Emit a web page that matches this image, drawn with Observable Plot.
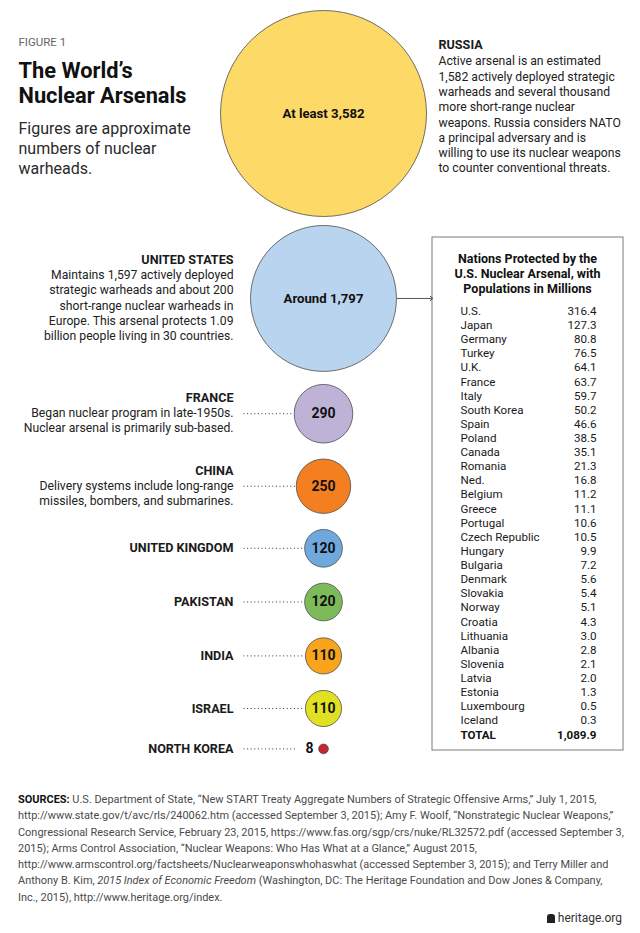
<!DOCTYPE html>
<html>
<head>
<meta charset="utf-8">
<script src="https://cdn.jsdelivr.net/npm/d3@7"></script>
<script src="https://cdn.jsdelivr.net/npm/@observablehq/plot@0.6"></script>
<style>
  body { margin: 0; background: #fff; }
  #wrap { position: relative; width: 640px; height: 933px; overflow: hidden; background:#fff; }
  #chart { position: absolute; left: 0; top: 0; }
  #sources { position: absolute; left: 18px; top: 792px; font-family: Roboto, sans-serif; font-size: 10.95px; line-height: 16.3px; color: #4a4a4a; }
  #sources div { white-space: nowrap; }
  #sources b { color: #111; font-weight: 700; }
  #brand { position: absolute; right: 18px; top: 911px; font-family: Roboto, sans-serif; font-size: 12px; color: #333; }
  #brand span { display: inline-block; width: 8px; height: 9px; background: #222; margin-right: 3px; vertical-align: -1px; border-radius: 3px 3px 0 0; }
</style>
</head>
<body>
<div id="wrap">
  <div id="chart"></div>
  <div id="sources"></div>
  <div id="brand"><span></span>heritage.org</div>
</div>
<script>
// ---------- DATA ----------
const countries = ["Russia", "United States", "France", "China", "United Kingdom", "Pakistan", "India", "Israel", "North Korea"];
const warheads = [3582, 1797, 290, 250, 120, 120, 110, 110, 8];
const circleLabels = ["At least 3,582", "Around 1,797", "290", "250", "120", "120", "110", "110", "8"];
const nameLabels = ["RUSSIA", "UNITED STATES", "FRANCE", "CHINA", "UNITED KINGDOM", "PAKISTAN", "INDIA", "ISRAEL", "NORTH KOREA"];
const notes = [
  ["Active arsenal is an estimated", "1,582 actively deployed strategic", "warheads and several thousand", "more short-range nuclear", "weapons. Russia considers NATO", "a principal adversary and is", "willing to use its nuclear weapons", "to counter conventional threats."],
  ["Maintains 1,597 actively deployed", "strategic warheads and about 200", "short-range nuclear warheads in", "Europe. This arsenal protects 1.09", "billion people living in 30 countries."],
  ["Began nuclear program in late-1950s.", "Nuclear arsenal is primarily sub-based."],
  ["Delivery systems include long-range", "missiles, bombers, and submarines."],
  [], [], [], [], []
];
const fills = ["#fdd967", "#b9d4ee", "#beb3d6", "#f47f20", "#6fa8dd", "#7dbb5a", "#f9a51b", "#e2e023", "#c8262f"];

const protectedNations = ["U.S.", "Japan", "Germany", "Turkey", "U.K.", "France", "Italy", "South Korea", "Spain", "Poland", "Canada", "Romania", "Ned.", "Belgium", "Greece", "Portugal", "Czech Republic", "Hungary", "Bulgaria", "Denmark", "Slovakia", "Norway", "Croatia", "Lithuania", "Albania", "Slovenia", "Latvia", "Estonia", "Luxembourg", "Iceland"];
const populations = [316.4, 127.3, 80.8, 76.5, 64.1, 63.7, 59.7, 50.2, 46.6, 38.5, 35.1, 21.3, 16.8, 11.2, 11.1, 10.6, 10.5, 9.9, 7.2, 5.6, 5.4, 5.1, 4.3, 3.0, 2.8, 2.1, 2.0, 1.3, 0.5, 0.3];
const totalLabel = "TOTAL";
const totalValue = "1,089.9";
const tableTitle = ["Nations Protected by the", "U.S. Nuclear Arsenal, with", "Populations in Millions"];

const titleText = { figure: "FIGURE 1", title: ["The World’s", "Nuclear Arsenals"], subtitle: ["Figures are approximate", "numbers of nuclear", "warheads."] };

const sourcesLines = [
  "<b>SOURCES:</b> U.S. Department of State, “New START Treaty Aggregate Numbers of Strategic Offensive Arms,” July 1, 2015,",
  "http://www.state.gov/t/avc/rls/240062.htm (accessed September 3, 2015); Amy F. Woolf, “Nonstrategic Nuclear Weapons,”",
  "Congressional Research Service, February 23, 2015, https://www.fas.org/sgp/crs/nuke/RL32572.pdf (accessed September 3,",
  "2015); Arms Control Association, “Nuclear Weapons: Who Has What at a Glance,” August 2015,",
  "http://www.armscontrol.org/factsheets/Nuclearweaponswhohaswhat (accessed September 3, 2015); and Terry Miller and",
  "Anthony B. Kim, <i>2015 Index of Economic Freedom</i> (Washington, DC: The Heritage Foundation and Dow Jones &amp; Company,",
  "Inc., 2015), http://www.heritage.org/index."
];

// ---------- LAYOUT (not data) ----------
const W = 640, H = 780;
const FONT = "Roboto, sans-serif";
const cx = 323, topY = 10, maxR = 103;
const gaps = [9, 13, 16, 16, 16, 17, 16.5, 17.5];
const lh = 15.3;
const noteSize = 12.2, nameSize = 12.6, tableSize = 11.6;
const leftTextX = 233, leaderStart = 243, rightTextX = 438;
const box = { x1: 432, x2: 623, y1: 237, y2: 750 };
const tableNameX = 460, tableValX = 596, tableTitleX = 527, rowY0 = 310.7, rowStep = 14.12;

const rScale = Plot.scale({ r: { domain: [0, warheads[0]], range: [0, maxR] } });
const rows = [];
let prevBottom = topY;
countries.forEach((c, i) => {
  const r = rScale.apply(warheads[i]);
  const cy = prevBottom + (i ? gaps[i - 1] : 0) + r;
  prevBottom = cy + r;
  rows.push({ country: c, warheads: warheads[i], label: circleLabels[i], name: nameLabels[i], notes: notes[i], r, cy, i });
});
const russia = rows[0], us = rows[1];
const leftRows = rows.slice(1);
const leaderRows = rows.slice(2);

const tableRows = protectedNations.map((n, i) => ({ name: n, value: populations[i].toFixed(1), i }));
const totalRow = [{ name: totalLabel, value: totalValue, i: protectedNations.length }];

const txt = "#1a1a1a";

const plot = Plot.plot({
  width: W, height: H,
  margin: 0,
  x: { domain: [0, W], range: [0, W], axis: null },
  y: { domain: [0, H], range: [0, H], axis: null },
  r: { domain: [0, warheads[0]], range: [0, maxR] },
  color: { domain: countries, range: fills },
  style: { fontFamily: FONT, background: "white" },
  marks: [
    // table box
    Plot.rect([box], { x1: "x1", x2: "x2", y1: "y1", y2: "y2", fill: "white", stroke: "#7a7a7a", strokeWidth: 1 }),
    // connector from US circle to the table
    Plot.link([us], { x1: d => cx + d.r, x2: box.x1 - 1, y1: "cy", y2: "cy", stroke: "#555", strokeWidth: 1, markerEnd: "arrow" }),
    // dotted leaders
    Plot.link(leaderRows, {
      x1: leaderStart,
      x2: d => d.warheads < 20 ? cx - d.r - 23 : cx - d.r - 1,
      y1: "cy", y2: "cy", stroke: "#333", strokeWidth: 1, strokeDasharray: "1,2.6"
    }),
    // circles
    Plot.dot(rows, { x: () => cx, y: "cy", r: "warheads", fill: "country", stroke: "#4d4d4d", strokeWidth: 0.8 }),
    // labels inside circles
    Plot.text(rows.filter(d => d.warheads >= 20 && d.i < 2), { x: () => cx, y: "cy", text: "label", fontWeight: "bold", fontSize: 13.2, fill: "#111" }),
    Plot.text(rows.filter(d => d.warheads >= 20 && d.i >= 2), { x: () => cx, y: "cy", text: "label", fontWeight: "bold", fontSize: 14, fill: "#111" }),
    // small value label beside tiny circle
    Plot.text(rows.filter(d => d.warheads < 20), { x: d => cx - d.r - 5, y: "cy", text: "label", textAnchor: "end", fontWeight: "bold", fontSize: 14, fill: "#111" }),
    // Russia name + notes (right side)
    Plot.text([russia], { x: rightTextX, y: d => d.cy - 4.5 * lh + 0.5, text: "name", textAnchor: "start", fontWeight: "bold", fontSize: nameSize, fill: txt }),
    Plot.text([russia], { x: rightTextX, y: d => d.cy + 0.5, text: d => d.notes.join("\n"), textAnchor: "start", lineAnchor: "middle", lineHeight: lh / noteSize, fontSize: noteSize, fill: "#222" }),
    // Left names
    Plot.text(leftRows, { x: leftTextX, y: d => d.cy - d.notes.length * lh / 2, text: "name", textAnchor: "end", fontWeight: "bold", fontSize: nameSize, fill: txt }),
    Plot.text(leftRows.filter(d => d.notes.length), { x: leftTextX, y: d => d.cy + lh / 2 - 1.5, text: d => d.notes.join("\n"), textAnchor: "end", lineAnchor: "middle", lineHeight: lh / noteSize, fontSize: noteSize, fill: "#222" }),
    // title block
    Plot.text([titleText.figure], { x: 18, y: 42, text: d => d, textAnchor: "start", fontSize: 11.5, fill: "#666" }),
    Plot.text([titleText.title.join("\n")], { x: 18, y: 82, text: d => d, textAnchor: "start", lineAnchor: "middle", lineHeight: 25.5 / 21.8, fontSize: 21.8, fontWeight: "bold", fill: "#111" }),
    Plot.text([titleText.subtitle.join("\n")], { x: 18, y: 147, text: d => d, textAnchor: "start", lineAnchor: "middle", lineHeight: 20 / 16, fontSize: 16, fill: "#2a2a2a" }),
    // table title
    Plot.text([tableTitle.join("\n")], { x: tableTitleX, y: 272.5, text: d => d, textAnchor: "middle", lineAnchor: "middle", lineHeight: 15.2 / 12.5, fontSize: 12.5, fontWeight: "bold", fill: "#111" }),
    // table rows
    Plot.text(tableRows, { x: tableNameX, y: d => rowY0 + d.i * rowStep, text: "name", textAnchor: "start", fontSize: tableSize, fill: txt }),
    Plot.text(tableRows, { x: tableValX, y: d => rowY0 + d.i * rowStep, text: "value", textAnchor: "end", fontSize: tableSize, fill: txt }),
    Plot.text(totalRow, { x: tableNameX, y: d => rowY0 + d.i * rowStep, text: "name", textAnchor: "start", fontSize: tableSize, fontWeight: "bold", fill: "#111" }),
    Plot.text(totalRow, { x: tableValX, y: d => rowY0 + d.i * rowStep, text: "value", textAnchor: "end", fontSize: tableSize, fontWeight: "bold", fill: "#111" })
  ]
});
document.getElementById("chart").appendChild(plot);
document.getElementById("sources").innerHTML = sourcesLines.map(l => `<div>${l}</div>`).join("");
</script>
</body>
</html>
